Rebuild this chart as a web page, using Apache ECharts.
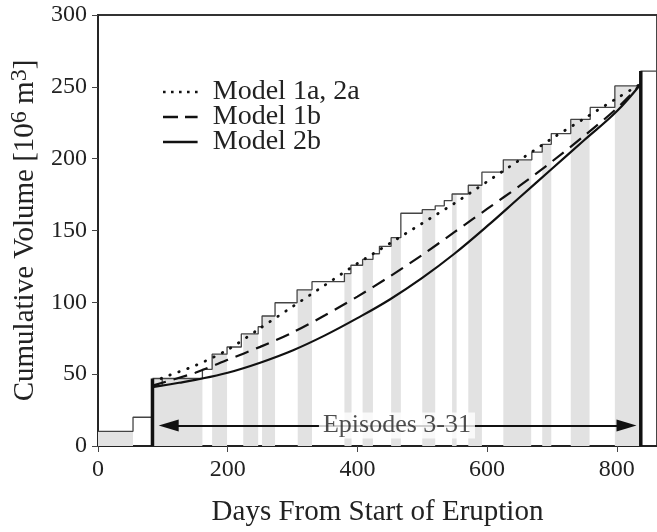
<!DOCTYPE html>
<html><head><meta charset="utf-8">
<script src="https://cdn.jsdelivr.net/npm/echarts@6/dist/echarts.min.js"></script>
<style>html,body{margin:0;padding:0;background:#fff}#c{width:657px;height:532px}</style>
</head><body><div id="c"></div>
<script>
const xTicks = [0, 200, 400, 600, 800];
const yTicks = [0, 50, 100, 150, 200, 250, 300];
// staircase: day of each rise and the cumulative volume after it
const stepDays = [0, 54, 84, 99, 161, 176, 199, 221, 247, 253, 273, 307, 330, 380, 390, 408, 424, 434, 452, 467, 500, 520, 534, 546, 571, 592, 625, 669, 685, 699, 729, 759, 797, 837, 862];
const stepVols = [10.2, 20, 42, 47, 53.4, 63.9, 68.9, 78, 83, 90.5, 99.7, 108.7, 114.4, 120, 125.8, 129.9, 133.8, 139, 145, 162, 164.5, 167.2, 170.8, 175.4, 181.5, 190.6, 199.2, 204.5, 210, 217.5, 227.3, 235.7, 250.6, 261, 261];
// small cap of the first episode step
const capDays = [84, 99];
const capVols = [47, 47];
// shaded episode bands (start, end days)
const bandStart = [0, 84, 176, 224, 253, 308, 380, 408, 452, 500, 546, 571, 625, 685, 729, 797];
const bandEnd   = [54, 161, 199, 247, 273, 330, 391, 424, 467, 520, 553, 592, 668, 699, 758, 837];
// model curves
const m1aDays = [84, 100, 150, 200, 250, 300, 350, 400, 450, 500, 550, 600, 650, 700, 750, 800, 837];
const m1aVols = [44, 47.5, 56, 67, 82, 97, 112, 127, 141, 155, 169, 184, 199, 214, 228, 242, 252];
const m1bDays = [84, 150, 200, 250, 300, 350, 400, 450, 500, 550, 600, 650, 700, 750, 800, 837];
const m1bVols = [42, 51, 60, 69, 79, 91, 104, 118, 133, 149, 165, 181, 198, 216, 235, 252];
const m2bDays = [84, 125, 150, 200, 250, 300, 350, 400, 450, 500, 550, 600, 650, 700, 750, 800, 837];
const m2bVols = [41, 44, 46, 51, 58, 66.5, 77, 89, 102, 117, 134, 153, 173, 193, 213, 233, 252];
// episode boundary markers
const boundDays = [84, 837];
const boundTops = [47, 261];
// arrow annotation
const arrowFrom = 109, arrowTo = 815, arrowY = 14.3, arrowLabelX = 461;
const arrowText = 'Episodes 3-31';
const legendNames = ['Model 1a, 2a', 'Model 1b', 'Model 2b'];

const FONT = 'Liberation Serif';
function levelAt(d) {
  let v = stepVols[0];
  for (let i = 0; i < stepDays.length; i++) if (stepDays[i] <= d) v = stepVols[i];
  return v;
}
const bands = bandStart.map((s, i) => [s, bandEnd[i], levelAt((s + bandEnd[i]) / 2)]);
const zip = (a, b) => a.map((x, i) => [x, b[i]]);

const ICON_DOT = 'path://M0,0h2.6v2.6h-2.6zM8,0h2.6v2.6h-2.6zM16,0h2.6v2.6h-2.6zM24,0h2.6v2.6h-2.6zM32,0h2.6v2.6h-2.6z';
const ICON_DASH = 'path://M0,0h15v2.6h-15zM22,0h12.6v2.6h-12.6z';
const ICON_SOLID = 'path://M0,0h34.6v2.6h-34.6z';

const chart = echarts.init(document.getElementById('c'));
chart.setOption({
  animation: false,
  backgroundColor: '#fff',
  grid: { left: 97, top: 15, width: 562.8, height: 439.5, show: true, borderColor: '#333', borderWidth: 1.8, backgroundColor: 'transparent' },
  legend: {
    orient: 'vertical', left: 163, top: 78, padding: 0, itemWidth: 35, itemHeight: 2.6, itemGap: -3,
    textStyle: { fontFamily: FONT, fontSize: 28, color: '#222', lineHeight: 28, padding: [0, 0, 0, 10] },
    data: [
      { name: legendNames[0], icon: ICON_DOT },
      { name: legendNames[1], icon: ICON_DASH },
      { name: legendNames[2], icon: ICON_SOLID }
    ]
  },
  xAxis: {
    type: 'value', min: 0, max: 862, interval: 200,
    name: 'Days From Start of Eruption', nameLocation: 'middle', nameGap: 52,
    nameTextStyle: { fontFamily: FONT, fontSize: 29, color: '#222' },
    axisLine: { lineStyle: { color: '#222', width: 1.8 } },
    axisTick: { show: true, length: 6, lineStyle: { color: '#444' }, customValues: xTicks },
    axisLabel: { fontFamily: FONT, fontSize: 24, color: '#222', margin: 12, customValues: xTicks },
    splitLine: { show: false }
  },
  yAxis: {
    type: 'value', min: 0, max: 300, interval: 50,
    name: '{a|Cumulative Volume [10}{s|6}{a| m}{s|3}{a|]}', nameLocation: 'middle', nameGap: 58,
    nameTextStyle: {
      fontFamily: FONT, fontSize: 29, color: '#222',
      rich: {
        a: { fontFamily: FONT, fontSize: 29, color: '#222', lineHeight: 32, verticalAlign: 'bottom' },
        s: { fontFamily: FONT, fontSize: 24, color: '#222', lineHeight: 32, verticalAlign: 'top' }
      }
    },
    axisLine: { show: true, lineStyle: { color: '#222', width: 1.8 } },
    axisTick: { show: true, length: 6, lineStyle: { color: '#444' }, customValues: yTicks },
    axisLabel: { fontFamily: FONT, fontSize: 24, color: '#222', margin: 11, customValues: yTicks },
    splitLine: { show: false }
  },
  series: [
    {
      type: 'custom', name: 'bands', z: 1, silent: true,
      data: bands,
      renderItem: function (params, api) {
        const p0 = api.coord([api.value(0), 0]);
        const p1 = api.coord([api.value(1), api.value(2)]);
        return { type: 'rect', shape: { x: p0[0], y: p1[1], width: p1[0] - p0[0], height: p0[1] - p1[1] }, style: { fill: '#e2e2e2' } };
      }
    },
    {
      type: 'line', name: 'steps', z: 3, step: 'end', symbol: 'none', silent: true,
      data: zip(stepDays, stepVols),
      lineStyle: { color: '#444', width: 1.3 }
    },
    {
      type: 'line', name: 'stepCap', z: 3, symbol: 'none', silent: true,
      data: zip(capDays, capVols),
      lineStyle: { color: '#444', width: 1.3 }
    },
    {
      type: 'line', name: 'bound1', z: 4, symbol: 'none', silent: true,
      data: [[boundDays[0], 0], [boundDays[0], boundTops[0]]],
      lineStyle: { color: '#111', width: 3.5 }
    },
    {
      type: 'line', name: 'bound2', z: 4, symbol: 'none', silent: true,
      data: [[boundDays[1], 0], [boundDays[1], boundTops[1]]],
      lineStyle: { color: '#111', width: 3.5 }
    },
    {
      type: 'line', name: legendNames[0], z: 5, symbol: 'none', smooth: 0.3,
      data: zip(m1aDays, m1aVols),
      lineStyle: { color: '#111', width: 2.8, type: [0.5, 9], cap: 'round' },
      itemStyle: { color: '#111' }
    },
    {
      type: 'line', name: legendNames[1], z: 5, symbol: 'none', smooth: 0.3,
      data: zip(m1bDays, m1bVols),
      lineStyle: { color: '#111', width: 2.2, type: [14, 8] },
      itemStyle: { color: '#111' }
    },
    {
      type: 'line', name: legendNames[2], z: 5, symbol: 'none', smooth: 0.4,
      data: zip(m2bDays, m2bVols),
      lineStyle: { color: '#111', width: 2.2 },
      itemStyle: { color: '#111' }
    },
    {
      type: 'line', name: 'arrow', z: 6, data: [], silent: true,
      markLine: {
        silent: true, animation: false, symbol: ['triangle', 'triangle'], symbolSize: [12, 20],
        lineStyle: { color: '#111', width: 2, type: 'solid' }, label: { show: false },
        data: [[{ coord: [arrowFrom, arrowY] }, { coord: [arrowTo, arrowY] }]]
      }
    },
    {
      type: 'scatter', name: 'arrowLabel', z: 7, symbolSize: 1, silent: true,
      itemStyle: { color: 'rgba(0,0,0,0)' },
      data: [[arrowLabelX, arrowY]],
      label: { show: true, position: 'inside', formatter: arrowText, fontFamily: FONT, fontSize: 26, color: '#222', backgroundColor: '#fff', padding: [0, 4, 0, 4] }
    }
  ]
});
</script></body></html>
